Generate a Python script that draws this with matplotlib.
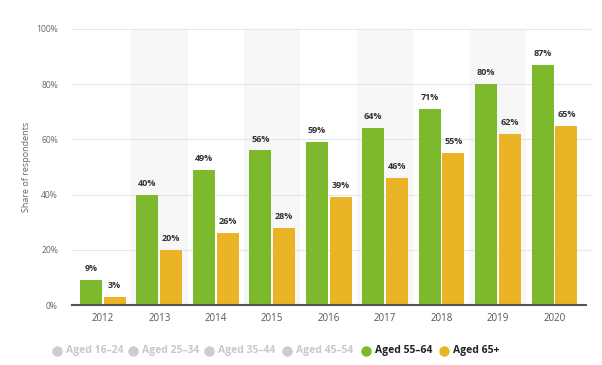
import matplotlib
matplotlib.use('Agg')
import matplotlib.pyplot as plt
import numpy as np

plt.rcParams['font.family'] = ['Open Sans', 'DejaVu Sans']

years = ['2012', '2013', '2014', '2015', '2016', '2017', '2018', '2019', '2020']
aged_55_64 = [9, 40, 49, 56, 59, 64, 71, 80, 87]
aged_65_plus = [3, 20, 26, 28, 39, 46, 55, 62, 65]
y_ticks = [0, 20, 40, 60, 80, 100]
legend_labels = ['Aged 16-24', 'Aged 25-34', 'Aged 35-44', 'Aged 45-54', 'Aged 55-64', 'Aged 65+']

GREEN = '#7cb92c'
YELLOW = '#ebb426'
GREY = '#cccccc'

fig = plt.figure(figsize=(6.02, 3.65), dpi=100)
ax = fig.add_axes([0.124, 0.164, 0.844, 0.757])

x = np.arange(len(years))
w = 0.39
off = 0.21

# alternating background bands
for i in x:
    if i % 2 == 1:
        ax.axvspan(i - 0.5, i + 0.5, color='#f7f7f7', zorder=0, lw=0)

# grid lines run a bit past the plot area, like the original
for t in y_ticks[1:]:
    ax.plot([-0.55, len(years) - 0.38], [t, t], color='#e6e6e6', lw=0.8, zorder=1, clip_on=False)

b1 = ax.bar(x - off, aged_55_64, width=w, color=GREEN, zorder=2)
b2 = ax.bar(x + off, aged_65_plus, width=w, color=YELLOW, zorder=2)

for bars, vals in ((b1, aged_55_64), (b2, aged_65_plus)):
    for r, v in zip(bars, vals):
        ax.text(r.get_x() + r.get_width() / 2, v + 2.5, '%d%%' % v,
                ha='center', va='bottom', fontsize=6.5, fontweight='bold', color='#333333')

ax.plot([-0.55, len(years) - 0.45], [0, 0], color='#555555', lw=1.5, zorder=3, clip_on=False)

ax.set_xlim(-0.5, len(years) - 0.5)
ax.set_ylim(0, 100)
ax.set_xticks(x)
ax.set_xticklabels(years, fontsize=7, color='#555555')
ax.set_yticks(y_ticks)
ax.set_yticklabels(['%d%%' % t for t in y_ticks], fontsize=6.2, color='#666666')
ax.tick_params(axis='both', length=0)
ax.tick_params(axis='x', pad=6)
ax.tick_params(axis='y', pad=12)
ax.set_ylabel('Share of respondents', fontsize=6.5, color='#666666', labelpad=4)
for s in ax.spines.values():
    s.set_visible(False)

# legend row at the bottom
leg_x = [57, 133, 209, 287, 366, 444]
leg_colors = [GREY, GREY, GREY, GREY, GREEN, YELLOW]
ly = 1 - 351 / 365
for lx, lab, c in zip(leg_x, legend_labels, leg_colors):
    active = c != GREY
    fig.lines.append(plt.Line2D([lx / 602], [ly], marker='o', markersize=6.5,
                                color=c, transform=fig.transFigure, linestyle='none'))
    fig.text((lx + 9) / 602, ly, lab.replace('-', '\u2013'), fontsize=7.5,
             fontweight='bold', va='center', ha='left',
             color='#222222' if active else '#c8c8c8')

fig.savefig('out.png', dpi=100)
